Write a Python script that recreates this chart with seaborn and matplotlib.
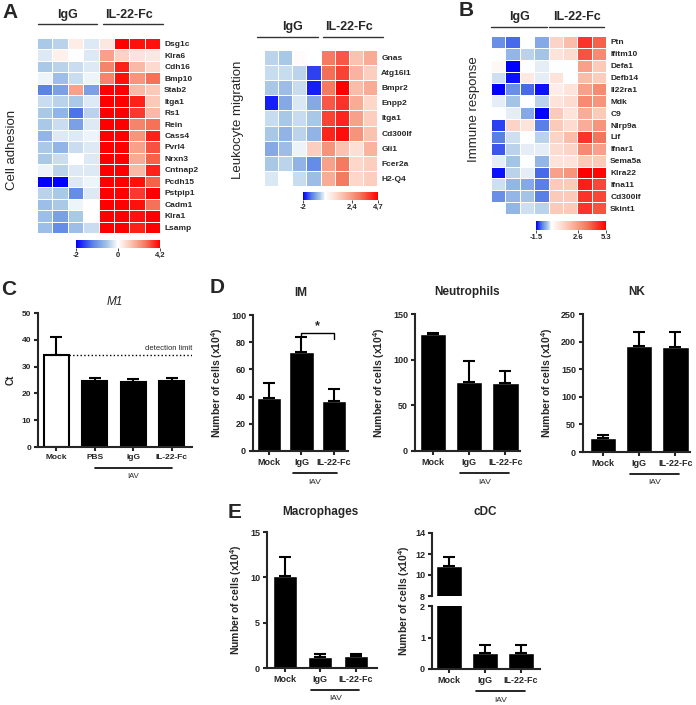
import numpy as np
import pandas as pd
import matplotlib
matplotlib.use('Agg')
import matplotlib.pyplot as plt
import seaborn as sns
from matplotlib.colors import LinearSegmentedColormap, TwoSlopeNorm, Normalize
from matplotlib.transforms import offset_copy

# --- heatmap data (log fold values) ---
samples = ['IgG1', 'IgG2', 'IgG3', 'IgG4', 'IL1', 'IL2', 'IL3', 'IL4']

adhesion_genes = ['Dsg1c', 'Klra6', 'Cdh16', 'Bmp10', 'Stab2', 'Itga1', 'Rs1', 'Rein', 'Cass4',
                  'Pvrl4', 'Nrxn3', 'Cntnap2', 'Pcdh15', 'Pstpip1', 'Cadm1', 'Klra1', 'Lsamp']
adhesion_vals = [
    [-0.5, -0.4, 0.4, -0.2, 0.5, 4.2, 4.0, 4.0],
    [-0.2, 0.3, 0.0, -0.2, 2.0, 1.0, 0.6, 0.5],
    [-0.5, -0.4, -0.3, -0.2, 2.5, 3.8, 1.5, 0.8],
    [-0.1, -0.6, -0.3, -0.1, 2.5, 4.0, 2.2, 2.8],
    [-1.2, -0.9, 2.0, -0.9, 4.2, 4.2, 1.5, 1.2],
    [-0.3, -0.4, -0.5, -0.2, 4.2, 4.2, 3.8, 1.2],
    [-0.5, -0.7, -1.3, -0.4, 4.2, 4.2, 3.5, 1.5],
    [-0.5, -0.3, -0.9, -0.2, 4.2, 4.2, 2.5, 2.8],
    [-0.7, -0.2, -0.2, -0.1, 4.2, 4.2, 2.2, 3.8],
    [-0.5, -0.7, -0.3, -0.2, 4.2, 4.2, 2.0, 3.2],
    [-0.5, -0.3, 0.0, -0.2, 4.2, 4.2, 1.8, 3.0],
    [-0.1, -0.4, -0.2, -0.2, 4.2, 4.2, 1.5, 3.8],
    [-2.0, -2.0, -0.2, -0.1, 4.2, 4.2, 4.0, 3.0],
    [-0.4, -0.5, -1.1, -0.2, 4.2, 4.2, 3.5, 4.2],
    [-0.6, -0.5, -0.1, 0.0, 4.2, 4.2, 4.0, 2.8],
    [-0.6, -0.9, -0.5, 0.0, 4.2, 4.2, 4.0, 4.2],
    [-0.6, -1.1, -0.6, -0.3, 4.2, 4.2, 3.8, 4.2],
]

migration_genes = ['Gnas', 'Atg16l1', 'Bmpr2', 'Enpp2', 'Itga1', 'Cd300lf', 'Gli1', 'Fcer2a', 'H2-Q4']
migration_vals = [
    [-0.4, -0.5, 0.1, 0.0, 3.0, 3.5, 1.5, 2.0],
    [-0.3, -0.3, -0.4, -1.6, 3.2, 3.8, 1.8, 1.2],
    [-0.5, -0.6, -0.3, -1.8, 3.0, 4.7, 1.6, 2.0],
    [-1.8, -0.8, -0.2, -0.8, 3.5, 4.0, 2.0, 1.0],
    [-0.3, -0.5, -0.3, -0.5, 3.8, 4.2, 2.2, 1.2],
    [-0.5, -0.7, -0.4, -0.7, 4.2, 4.5, 2.5, 1.5],
    [-0.8, -0.6, -0.1, 1.2, 2.5, 1.5, 0.8, 1.8],
    [-0.5, -0.4, -0.7, -1.1, 2.2, 3.0, 1.0, 1.2],
    [-0.2, 0.0, -0.3, -0.6, 2.0, 3.0, 1.0, 1.2],
]

immune_genes = ['Ptn', 'Ifitm10', 'Defa1', 'Defb14', 'Il22ra1', 'Mdk', 'C9', 'Nlrp9a', 'Lif',
                'Ifnar1', 'Sema5a', 'Klra22', 'Ifna11', 'Cd300lf', 'Skint1']
immune_vals = [
    [-0.8, -1.0, 0.0, -0.6, 1.2, 1.8, 4.5, 3.8],
    [0.0, -0.5, -0.3, -0.4, 0.8, 1.0, 4.0, 3.0],
    [0.2, -1.5, 0.0, -0.1, 0.0, 0.0, 2.5, 1.5],
    [-0.2, -1.4, 0.6, -0.1, 0.8, 0.0, 1.8, 1.4],
    [-1.5, -0.8, -1.0, -1.4, 0.5, 0.8, 2.5, 3.0],
    [-0.1, -0.4, 0.0, -0.3, 0.8, 1.0, 3.0, 2.8],
    [0.0, -0.1, -0.6, -1.5, 1.5, 0.8, 2.2, 1.5],
    [-1.2, 1.2, 0.8, -0.9, 1.5, 1.0, 2.2, 2.8],
    [-0.9, -0.2, 0.0, -0.3, 1.2, 1.8, 4.5, 3.5],
    [-1.1, -0.3, -0.1, -0.1, 1.0, 1.2, 3.0, 2.5],
    [-0.1, -0.4, 0.0, -0.5, 0.8, 0.8, 1.5, 1.5],
    [-1.4, -0.3, -0.1, -1.0, 2.5, 2.8, 5.3, 5.2],
    [-0.2, -0.5, -0.6, -0.9, 1.5, 1.5, 4.8, 4.2],
    [-0.8, -0.5, -0.4, -0.9, 1.5, 1.5, 4.5, 4.2],
    [0.0, -0.5, -0.2, -0.3, 1.5, 1.5, 4.5, 4.0],
]

# --- bar chart data ---
m1_cats = ['Mock', 'PBS', 'IgG', 'IL-22-Fc']
m1_mean = [34.5, 24.5, 24.4, 24.5]
m1_err = [6.5, 1.2, 1.0, 1.3]
detection_limit = 34.5

cats = ['Mock', 'IgG', 'IL-22-Fc']
im_mean = [39, 73, 36.5]
im_err = [11, 11, 9]
neu_mean = [128, 76, 75]
neu_err = [1.5, 22, 13]
nk_mean = [25, 192, 191]
nk_err = [6, 26, 26]
mac_mean = [10.2, 1.25, 1.3]
mac_err = [2.0, 0.3, 0.25]
cdc_mean = [10.9, 0.52, 0.5]
cdc_err = [0.8, 0.23, 0.25]

sns.set_style('white')
plt.rcParams['font.family'] = ['Liberation Sans', 'DejaVu Sans']
plt.rcParams['mathtext.fontset'] = 'custom'
plt.rcParams['mathtext.rm'] = 'Liberation Sans'
plt.rcParams['mathtext.bf'] = 'Liberation Sans:bold'
plt.rcParams['mathtext.it'] = 'Liberation Sans:italic'

W, H = 696, 705
fig = plt.figure(figsize=(W / 100, H / 100), dpi=100)


def box(x0, y0, x1, y1):
    # axes from pixel corners (top-left origin)
    return fig.add_axes([x0 / W, 1 - y1 / H, (x1 - x0) / W, (y1 - y0) / H])


def make_cmap(f):
    return LinearSegmentedColormap.from_list('ref', [
        (0.0, '#0000ff'), (f * 0.4, '#5b83e6'), (f * 0.75, '#a9c8e6'), (f, '#ffffff'),
        (f + (1 - f) * 0.3, '#fbc6b4'), (f + (1 - f) * 0.65, '#f4795e'), (1.0, '#ff0000')])


def heat(rect, crect, genes, vals, vmin, vmax, ticks, tlabels, toff, loff, spans, twoslope=False):
    ax = box(*rect)
    cax = box(*crect)
    df = pd.DataFrame(vals, index=genes, columns=samples)
    if twoslope:
        norm = TwoSlopeNorm(vcenter=0, vmin=vmin, vmax=vmax)
        cmap = make_cmap(0.5)
    else:
        norm = Normalize(vmin, vmax)
        cmap = make_cmap(-vmin / (vmax - vmin))
    sns.heatmap(df, ax=ax, cmap=cmap, norm=norm, linewidths=0.7, linecolor='white',
                cbar_ax=cax, cbar_kws={'orientation': 'horizontal', 'ticks': ticks},
                xticklabels=False, yticklabels=genes)
    ax.yaxis.tick_right()
    ax.set_yticklabels(genes, rotation=0, fontsize=6, fontweight='bold')
    ax.tick_params(axis='y', length=0, pad=3)
    ax.set_ylabel('')
    cb = ax.collections[0].colorbar
    cb.outline.set_visible(False)
    cax.set_xticklabels(tlabels, fontsize=5.5, fontweight='bold')
    cax.tick_params(axis='x', length=2, width=0.6, pad=1)
    tr_t = offset_copy(ax.transData, fig=fig, y=toff, units='dots')
    tr_l = offset_copy(ax.transData, fig=fig, y=loff, units='dots')
    ax.text(2, 0, 'IgG', transform=tr_t, ha='center', va='center', fontsize=9, fontweight='bold')
    ax.text(6, 0, 'IL-22-Fc', transform=tr_t, ha='center', va='center', fontsize=9, fontweight='bold')
    for a, b in spans:
        ax.plot([a, b], [0, 0], transform=tr_l, color='#333333', lw=1, clip_on=False)
    return ax


heat((37, 38, 160, 233), (76, 240, 160, 248), adhesion_genes, adhesion_vals, -2, 4.2,
     [-2, 0, 4.2], ['-2', '0', '4,2'], 23, 14, [(0.05, 3.9), (4.3, 8.2)], twoslope=True)
heat((264, 50, 377, 186), (303, 192, 378, 200), migration_genes, migration_vals, -2, 4.7,
     [-2, 2.4, 4.7], ['-2', '2,4', '4,7'], 23, 13, [(-0.5, 3.8), (4.2, 8.4)])
heat((491, 36, 606, 214), (536, 221, 606, 230), immune_genes, immune_vals, -1.5, 5.3,
     [-1.5, 2.6, 5.3], ['-1.5', '2.6', '5.3'], 19, 9, [(0.0, 3.9), (4.0, 7.85)])

fig.text(12 / W, 1 - 150 / H, 'Cell adhesion', rotation=90, ha='center', va='center', fontsize=9.5)
fig.text(238 / W, 1 - 120 / H, 'Leukocyte migration', rotation=90, ha='center', va='center', fontsize=9.5)
fig.text(474 / W, 1 - 109 / H, 'Immune response', rotation=90, ha='center', va='center', fontsize=9.5)


def bars(ax, cs, means, errs, ylim, yticks, xlim, width, fs=6.5, colors=None, iav=None):
    n = len(cs)
    sns.barplot(x=cs, y=means, color='black', width=width, saturation=1, errorbar=None, ax=ax)
    if colors is not None:
        for p, c in zip(ax.patches, colors):
            p.set_facecolor(c)
            p.set_edgecolor('black')
            p.set_linewidth(1.5)
    ax.errorbar(np.arange(n), means, yerr=[np.zeros(n), errs], fmt='none', ecolor='black',
                elinewidth=1.5, capsize=4.5, capthick=1.5)
    ax.set_ylim(*ylim)
    ax.set_yticks(yticks)
    ax.set_xlim(*xlim)
    sns.despine(ax=ax)
    for s in ('left', 'bottom'):
        ax.spines[s].set_linewidth(1.5)
    ax.tick_params(axis='both', direction='out', length=3, width=1.5, labelsize=fs, pad=2,
                   left=True, bottom=True)
    for lbl in ax.get_xticklabels() + ax.get_yticklabels():
        lbl.set_fontweight('bold')
    if iav is not None:
        lo, hi, off = iav
        tl = offset_copy(ax.get_xaxis_transform(), fig=fig, y=-off, units='dots')
        tt = offset_copy(ax.get_xaxis_transform(), fig=fig, y=-off - 9, units='dots')
        ax.plot([lo, hi], [0, 0], transform=tl, color='black', lw=1.2, clip_on=False)
        ax.text((lo + hi) / 2, 0, 'IAV', transform=tt, ha='center', va='center', fontsize=fs - 0.5)


ylab = 'Number of cells (x10$^\\mathbf{4}$)'

# C
ax_c = box(38, 313, 192, 447)
bars(ax_c, m1_cats, m1_mean, m1_err, (0, 50), [0, 10, 20, 30, 40, 50], (-0.48, 3.52), 0.65,
     fs=6, colors=['white', 'black', 'black', 'black'], iav=(1, 3, 21))
ax_c.axhline(detection_limit, xmin=0.2, xmax=1, ls=':', color='black', lw=1)
ax_c.text(3.52, detection_limit + 0.8, 'detection limit', ha='right', va='bottom', fontsize=5.5)
ax_c.set_ylabel('Ct', fontsize=7, fontweight='bold')
ax_c.set_title('M1', fontsize=8.5, fontstyle='italic', pad=6)

# D
ax_im = box(253, 315, 348, 451)
bars(ax_im, cats, im_mean, im_err, (0, 100), [0, 20, 40, 60, 80, 100], (-0.49, 2.43), 0.74,
     iav=(0.73, 2.1, 22))
ax_im.plot([1, 1, 2, 2], [84.5, 87, 87, 82], color='black', lw=1)
ax_im.text(1.5, 87.5, '*', ha='center', va='bottom', fontsize=9, fontweight='bold')
ax_im.set_ylabel(ylab, fontsize=7.5, fontweight='bold')
ax_im.set_title('IM', fontsize=8.5, fontweight='bold', pad=14)

ax_n = box(415, 314, 520, 451)
bars(ax_n, cats, neu_mean, neu_err, (0, 150), [0, 50, 100, 150], (-0.49, 2.4), 0.72,
     iav=(0.75, 2.1, 22))
ax_n.set_ylabel(ylab, fontsize=7.5, fontweight='bold')
ax_n.set_title('Neutrophils', fontsize=8.5, fontweight='bold', pad=14)

ax_nk = box(583, 314, 690, 452)
bars(ax_nk, cats, nk_mean, nk_err, (0, 250), [0, 50, 100, 150, 200, 250], (-0.55, 2.4), 0.72,
     iav=(0.75, 2.1, 22))
ax_nk.set_ylabel(ylab, fontsize=7.5, fontweight='bold')
ax_nk.set_title('NK', fontsize=8.5, fontweight='bold', pad=14)

# E
ax_m = box(267, 532, 377, 668)
bars(ax_m, cats, mac_mean, mac_err, (0, 15), [0, 5, 10, 15], (-0.5, 2.6), 0.67,
     iav=(0.75, 2.1, 22))
ax_m.set_ylabel(ylab, fontsize=7.5, fontweight='bold')
fig.text(320 / W, 1 - 512 / H, 'Macrophages', ha='center', va='center', fontsize=8.5, fontweight='bold')

ax_up = box(432, 533, 540, 596)
ax_lo = box(432, 606, 540, 669)
bars(ax_up, cats, cdc_mean, cdc_err, (8, 14), [8, 10, 12, 14], (-0.47, 2.53), 0.72)
bars(ax_lo, cats, cdc_mean, cdc_err, (0, 2), [0, 1, 2], (-0.47, 2.53), 0.72, iav=(0.75, 2.1, 22))
ax_up.spines['bottom'].set_visible(False)
ax_up.tick_params(axis='x', bottom=False, labelbottom=False)
fig.text(404 / W, 1 - 601 / H, ylab, rotation=90, ha='center', va='center', fontsize=7.5, fontweight='bold')
fig.text(485 / W, 1 - 512 / H, 'cDC', ha='center', va='center', fontsize=8.5, fontweight='bold')

# panel letters
for letter, (px, py) in {'A': (10, 12), 'B': (466, 10), 'C': (9, 290), 'D': (217, 288),
                         'E': (235, 513)}.items():
    fig.text(px / W, 1 - py / H, letter, ha='center', va='center', fontsize=15, fontweight='bold')

fig.savefig('out.png', dpi=100)
